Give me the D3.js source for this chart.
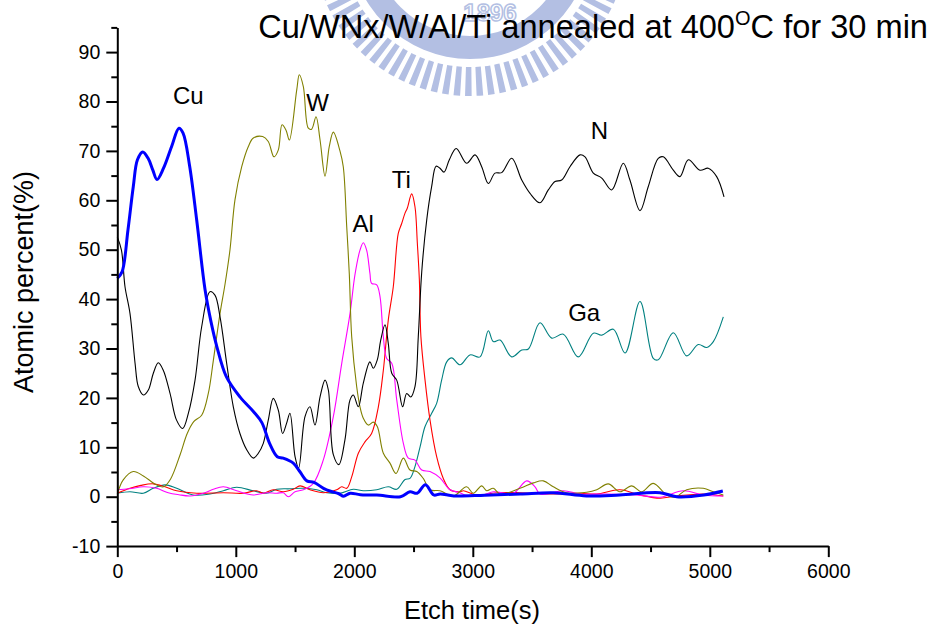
<!DOCTYPE html>
<html>
<head>
<meta charset="utf-8">
<script src="https://cdn.jsdelivr.net/npm/d3@7/dist/d3.min.js"></script>
<style>
  html, body { margin: 0; padding: 0; background: #fff; }
  svg { display: block; font-family: "Liberation Sans", Arial, sans-serif; }
</style>
</head>
<body>
<svg id="chart" width="935" height="629"></svg>
<script>
// Depth profile: etch time (s) vs atomic percent for each element
const cuProfile = [[0,44.2],[40,45.5],[90,54],[135,62.8],[170,68.2],[215,69.8],[260,68.5],[300,66.1],[335,64.2],[390,66.5],[460,71],[520,74.6],[555,73.6],[610,67],[670,56],[740,42],[790,35.5],[840,30.4],[920,24.3],[1035,20.2],[1150,17.2],[1220,15],[1285,10.8],[1350,8.1],[1400,7.8],[1485,6.8],[1540,5.1],[1600,3.2],[1660,2.9],[1740,1.7],[1800,1.1],[1870,0.6],[1910,0.1],[1965,0.7],[2050,0.4],[2190,0.35],[2390,0],[2470,1],[2530,0.7],[2600,2.4],[2670,0.35],[2725,0.55],[2840,0.15],[3100,0.3],[3400,0.55],[3680,0.8],[3960,0.15],[4240,0.35],[4580,0.8],[4720,0],[4950,0.35],[5110,1.15]];

const nProfile = [[0,52.6],[35,49.9],[65,42.5],[107,37.1],[150,27],[177,22.3],[220,20.6],[262,21.6],[304,25],[346,27.1],[388,25.6],[445,20.9],[500,15.5],[552,13.8],[600,16.9],[656,23.6],[712,34.4],[782,41.5],[824,40.8],[867,36.4],[923,27],[979,18.2],[1035,12.8],[1092,9.5],[1148,7.8],[1190,8.8],[1232,10.8],[1274,15.5],[1316,19.9],[1359,17.5],[1395,12.8],[1429,14.9],[1457,16.9],[1500,8.1],[1530,5.8],[1584,16.2],[1626,18.2],[1668,14.5],[1711,20.2],[1753,23.6],[1781,21.6],[1823,8.5],[1870,6.5],[1921,11.5],[1964,19.6],[1992,20.6],[2034,18.2],[2076,23],[2132,27.3],[2160,26],[2194,27.7],[2223,31.7],[2259,34.8],[2287,31],[2316,25],[2358,23.6],[2408,18.2],[2442,20.9],[2476,20.2],[2512,22.3],[2540,32.4],[2569,45.5],[2611,56],[2653,62.8],[2690,66.9],[2723,66.5],[2757,65.7],[2802,68.2],[2860,70.5],[2948,67.5],[3019,69.2],[3075,66.8],[3131,63.4],[3187,65.5],[3244,65.6],[3328,68.5],[3413,64.1],[3483,61.4],[3567,59.5],[3637,62.1],[3694,63.8],[3750,64.1],[3820,66.8],[3905,69.2],[3947,68.8],[4017,65.5],[4088,64.5],[4172,62.1],[4270,67.5],[4326,64.1],[4411,57.9],[4481,62.8],[4565,68.5],[4608,68.8],[4692,66.1],[4748,64.8],[4819,68.2],[4917,66.1],[4987,66.5],[5058,64.8],[5120,60.7]];

const wProfile = [[0,0.5],[50,3.4],[135,5.1],[220,4.2],[330,2.4],[390,2],[450,3.6],[530,8.5],[590,12.8],[645,15.2],[712,16.5],[768,20.9],[810,27.5],[867,37.1],[909,43],[951,50],[993,60.1],[1050,66.8],[1106,70.9],[1148,72.6],[1227,72.9],[1274,71.9],[1322,68.8],[1359,70.2],[1390,75.3],[1424,74.2],[1452,72.2],[1514,82.3],[1536,85.4],[1570,83],[1612,74.6],[1640,74.4],[1677,76.9],[1711,72.2],[1753,64.9],[1789,70.9],[1823,73.8],[1879,70],[1907,66.8],[1936,54.7],[1958,45],[1978,32.4],[2020,22.3],[2048,18.2],[2076,15.9],[2118,14.5],[2160,15.1],[2194,14.2],[2245,8.8],[2301,6.8],[2352,4.7],[2414,7.8],[2470,5.4],[2527,5.1],[2582,3.7],[2639,1.4],[2723,1.2],[2836,0.15],[2948,2],[3004,0.7],[3075,2.2],[3117,1.2],[3173,1.7],[3230,0.55],[3398,1.7],[3511,2.8],[3595,3.2],[3679,2],[3792,0.8],[3961,0.9],[4046,1.4],[4143,2.6],[4242,1],[4341,2.2],[4425,1],[4523,2.7],[4636,0.35],[4706,-0.1],[4805,1.4],[4945,1.7],[5030,1],[5114,0.35]];

const alProfile = [[0,1.4],[100,1.6],[220,2],[330,1.7],[430,0.8],[520,0.4],[613,0.15],[726,0.7],[810,1.5],[895,2],[1007,1.2],[1148,0.35],[1260,0.8],[1345,0.7],[1401,0.8],[1443,0],[1500,1],[1570,1.4],[1654,2.7],[1738,7.4],[1823,16.2],[1894,27],[1964,37.1],[2006,45],[2048,49.9],[2076,51.4],[2104,49.9],[2132,45.2],[2146,43.2],[2189,42.9],[2217,40.5],[2245,32.4],[2273,28],[2316,27],[2358,19.6],[2414,10.8],[2456,7.8],[2512,7.4],[2569,5.4],[2639,5.1],[2723,3.8],[2808,1.4],[2892,0.8],[2934,0.35],[3061,0.15],[3173,1],[3342,0.7],[3455,3.2],[3525,2],[3567,0.55],[3764,1.2],[3905,0.55],[4130,0.55],[4383,0.35],[4580,-0.1],[4777,1.2],[4945,0.35],[5114,0.15]];

const tiProfile = [[0,0.7],[107,1.7],[200,2.3],[304,2.6],[403,2],[501,1.2],[670,0.7],[895,0.8],[1063,0.7],[1176,1.2],[1232,0.7],[1316,1.4],[1401,1],[1485,1.5],[1542,2.2],[1626,1.4],[1738,0.8],[1851,1.4],[1894,2],[1936,1.7],[1978,4],[2034,8.8],[2090,11.1],[2146,12.8],[2203,18.2],[2245,25.6],[2287,35.8],[2329,42.5],[2371,53.3],[2400,55.3],[2428,57.4],[2447,58.4],[2484,61.3],[2512,58.7],[2532,51.3],[2549,43.9],[2562,32.4],[2597,23.6],[2639,15.5],[2695,8.1],[2751,3.7],[2808,1.4],[2892,1],[2920,1.2],[3033,0.35],[3202,0.8],[3398,0.8],[3679,0.55],[3905,0.7],[4046,0.55],[4242,1.4],[4411,0.35],[4580,-0.3],[4720,0.15],[4945,0.55],[5114,0.15]];

const gaProfile = [[0,0.7],[107,1],[219,0.7],[304,1.7],[403,2.4],[501,1.7],[641,0.35],[782,0.55],[895,1.2],[1007,1.9],[1148,1.2],[1260,0.7],[1345,1.5],[1457,1.6],[1570,1.7],[1683,1.4],[1767,0.8],[1879,0.7],[1992,1.5],[2076,1.2],[2189,1.4],[2287,2],[2358,1.5],[2428,3.5],[2470,3.7],[2512,6.1],[2555,10.1],[2597,14.2],[2653,16.9],[2695,18.9],[2737,23.6],[2780,27.3],[2822,28.1],[2892,26.7],[2976,28.7],[3061,28.3],[3131,33.6],[3173,31.4],[3230,31.7],[3328,28.3],[3413,29.7],[3469,29.9],[3567,35.2],[3666,32.1],[3764,32.9],[3890,28.3],[4017,33.1],[4088,32.7],[4186,33.9],[4285,29.1],[4411,39.5],[4523,28],[4565,27.7],[4692,33.2],[4805,28.5],[4903,30.8],[4973,30.2],[5030,31.4],[5114,36.4]];

const xTicks = [0, 1000, 2000, 3000, 4000, 5000, 6000];
const yTicks = [-10, 0, 10, 20, 30, 40, 50, 60, 70, 80, 90];

// Element labels placed next to their curves (time, percent)
const elementLabels = [
  { name: "Cu", t: 470, v: 79.5 },
  { name: "W",  t: 1595, v: 78 },
  { name: "Al", t: 1985, v: 53.5 },
  { name: "Ti", t: 2315, v: 62.5 },
  { name: "N",  t: 3995, v: 72.5 },
  { name: "Ga", t: 3805, v: 35.5 }
];

const series = [
  { data: gaProfile, color: "#008080", width: 1.1 },
  { data: tiProfile, color: "#ff0000", width: 1.1 },
  { data: alProfile, color: "#ff00ff", width: 1.1 },
  { data: wProfile,  color: "#808000", width: 1.1 },
  { data: nProfile,  color: "#000000", width: 1.1 },
  { data: cuProfile, color: "#0000ff", width: 3 }
];

const svg = d3.select("#chart");
const tickFmt = v => String(v);   // plain hyphen for negatives

// Faint emblem behind the plot
const emblem = svg.append("g").attr("transform", "translate(470,-62)").attr("fill", "#b3bfe3");
emblem.append("path")
  .attr("d", d3.arc()({ innerRadius: 98, outerRadius: 121, startAngle: 0, endAngle: 2 * Math.PI }));
const tickAngles = d3.range(0, 360, 4.2);
emblem.selectAll("path.ray").data(tickAngles).join("path")
  .attr("class", "ray")
  .attr("d", a => d3.arc()({ innerRadius: 129, outerRadius: 158,
    startAngle: (a - 1.2) * Math.PI / 180, endAngle: (a + 1.2) * Math.PI / 180 }));
svg.append("text").attr("x", 490).attr("y", 21).attr("text-anchor", "middle")
  .attr("font-size", 24).attr("font-weight", "bold").attr("fill", "#fff")
  .attr("stroke", "#b3bfe3").attr("stroke-width", 1.5).text("1896");

const x = d3.scaleLinear().domain([0, 6000]).range([117.3, 828.3]);
const y = d3.scaleLinear().domain([-10, 95]).range([546.1, 27.4]);

const line = d3.line()
  .x(d => x(d[0]))
  .y(d => y(d[1]))
  .curve(d3.curveCatmullRom.alpha(0.5));

svg.append("g").selectAll("path").data(series).join("path")
  .attr("d", s => line(s.data))
  .attr("fill", "none")
  .attr("stroke", s => s.color)
  .attr("stroke-width", s => s.width)
  .attr("stroke-linejoin", "round");

// Axes
const xAxisY = y(-10);
const gx = svg.append("g").attr("transform", `translate(0,${xAxisY})`);
gx.call(d3.axisBottom(x).tickValues(d3.range(500, 6000, 1000)).tickSize(6).tickSizeOuter(0).tickFormat(""));
gx.call(g => g.select(".domain").remove());
gx.append("g").call(d3.axisBottom(x).tickValues(xTicks).tickSize(11).tickSizeOuter(0).tickPadding(7).tickFormat(tickFmt));
gx.selectAll("line").attr("stroke", "#000").attr("stroke-width", 2);
gx.selectAll(".domain").attr("stroke", "#000").attr("stroke-width", 2);
gx.selectAll("text").attr("font-size", 19.5).attr("fill", "#000").attr("font-family", "Liberation Sans, Arial, sans-serif");

const gy = svg.append("g").attr("transform", `translate(${x(0)},0)`);
gy.call(d3.axisLeft(y).tickValues(d3.range(-5, 96, 10)).tickSize(6).tickSizeOuter(0).tickFormat(""));
gy.call(g => g.select(".domain").remove());
gy.append("g").call(d3.axisLeft(y).tickValues(yTicks).tickSize(11).tickSizeOuter(0).tickPadding(6).tickFormat(tickFmt));
gy.selectAll("line").attr("stroke", "#000").attr("stroke-width", 2);
gy.selectAll(".domain").attr("stroke", "#000").attr("stroke-width", 2);
gy.selectAll("text").attr("font-size", 19.5).attr("fill", "#000").attr("font-family", "Liberation Sans, Arial, sans-serif");

// Element labels
svg.append("g").selectAll("text").data(elementLabels).join("text")
  .attr("x", d => x(d.t))
  .attr("y", d => y(d.v))
  .attr("font-size", 24)
  .attr("fill", "#000")
  .text(d => d.name);

// Axis titles
svg.append("text").attr("x", 472).attr("y", 619).attr("text-anchor", "middle")
  .attr("font-size", 25.5).attr("fill", "#000").text("Etch time(s)");
svg.append("text").attr("transform", "translate(33,282) rotate(-90)").attr("text-anchor", "middle")
  .attr("font-size", 27).attr("fill", "#000").text("Atomic percent(%)");

// Title with superscript degree mark
const title = svg.append("text").attr("x", 928).attr("y", 38).attr("text-anchor", "end")
  .attr("font-size", 32.6).attr("fill", "#000");
title.append("tspan").text("Cu/WNx/W/Al/Ti annealed at 400");
title.append("tspan").attr("font-size", 20).attr("dy", -13).text("O");
title.append("tspan").attr("dy", 13).text("C for 30 min");
</script>
</body>
</html>
